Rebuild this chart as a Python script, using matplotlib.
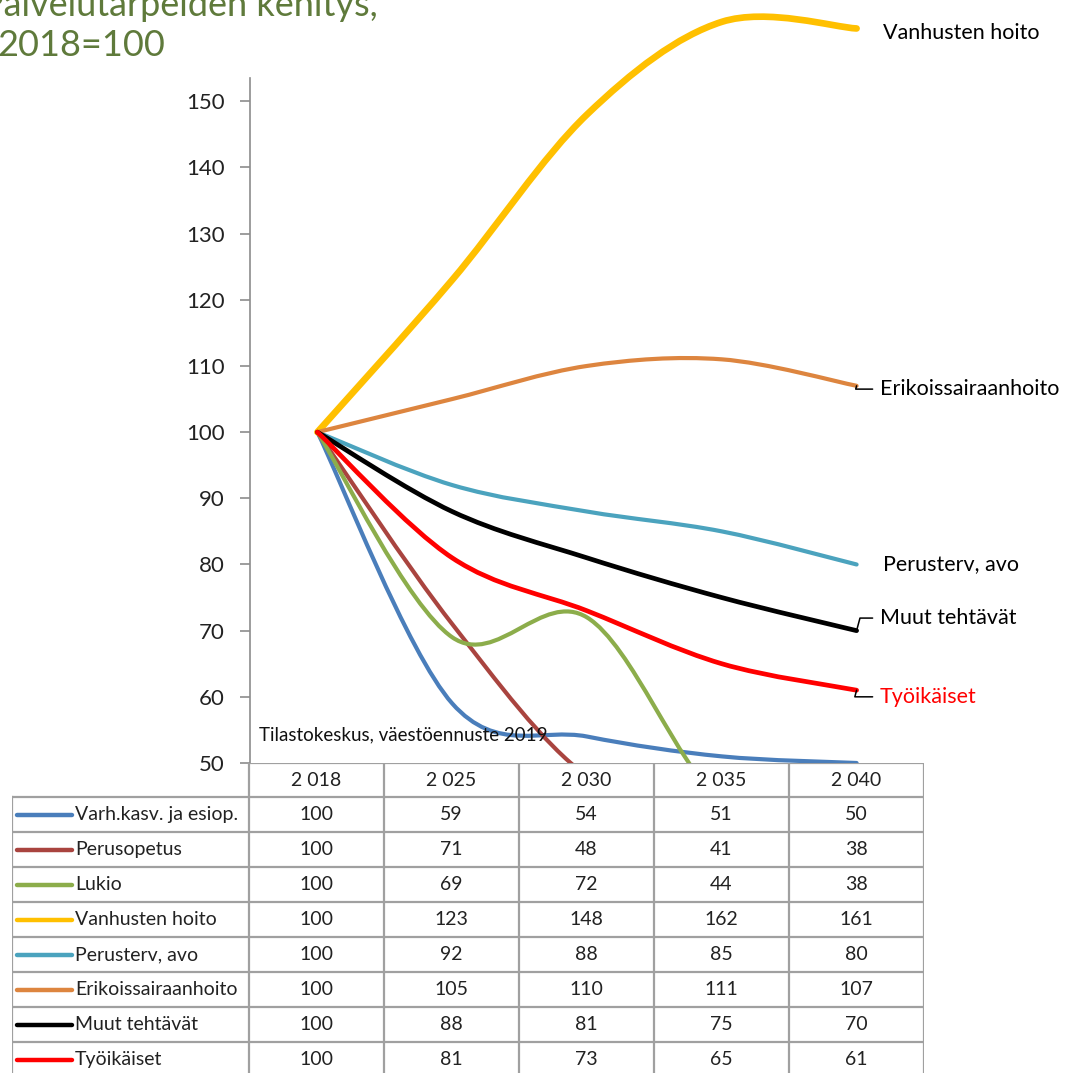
import numpy as np
import matplotlib
matplotlib.use("Agg")
import matplotlib.pyplot as plt
from matplotlib.path import Path
from matplotlib.patches import PathPatch

plt.rcParams['font.family'] = ['Lato', 'DejaVu Sans']

# ---------------- data ----------------
years = [2018, 2025, 2030, 2035, 2040]
series_names = ["Varh.kasv. ja esiop.", "Perusopetus", "Lukio", "Vanhusten hoito",
                "Perusterv, avo", "Erikoissairaanhoito", "Muut tehtävät", "Työikäiset"]
varh = [100, 59, 54, 51, 50]
perusopetus = [100, 71, 48, 41, 38]
lukio = [100, 69, 72, 44, 38]
vanhusten = [100, 123, 148, 162, 161]
perusterv = [100, 92, 88, 85, 80]
erikois = [100, 105, 110, 111, 107]
muut = [100, 88, 81, 75, 70]
tyoikaiset = [100, 81, 73, 65, 61]
series_values = [varh, perusopetus, lukio, vanhusten, perusterv, erikois, muut, tyoikaiset]
colors = ["#4a7ebb", "#a9443f", "#8cad4b", "#ffc000", "#4ba3be", "#dd853f", "#000000", "#ff0000"]
widths = [3.0, 3.0, 3.0, 4.8, 3.0, 3.0, 3.4, 3.4]
yticks = [50, 60, 70, 80, 90, 100, 110, 120, 130, 140, 150]
title_lines = ["Palvelutarpeiden kehitys,", "2018=100"]
source_note = "Tilastokeskus, väestöennuste 2019"
# right-hand labels: series index -> (text colour, label y position, has leader)
end_labels = {3: ("#000000", 160.3, False), 5: ("#000000", 106.5, True),
              4: ("#000000", 80.1, False), 6: ("#000000", 71.9, True),
              7: ("#ff0000", 60.0, True)}

W, H = 1067, 1073
fig = plt.figure(figsize=(W / 100, H / 100), dpi=100)
fig.patch.set_facecolor("white")

def px_rect(x0, y0, x1, y1):
    return [x0 / W, 1 - y1 / H, (x1 - x0) / W, (y1 - y0) / H]

ax = fig.add_axes(px_rect(250, 2, 924, 763))
ax.set_xlim(-0.5, 4.5)
ax.set_ylim(50, 165)

def smooth(xs, ys):
    pts = np.column_stack([xs, ys]).astype(float)
    n = len(pts)
    verts = [pts[0]]
    codes = [Path.MOVETO]
    for i in range(n - 1):
        p0 = pts[i - 1] if i > 0 else pts[i]
        p1 = pts[i]
        p2 = pts[i + 1]
        p3 = pts[i + 2] if i + 2 < n else pts[i + 1]
        c1 = p1 + (p2 - p0) / 6.0
        c2 = p2 - (p3 - p1) / 6.0
        verts += [c1, c2, p2]
        codes += [Path.CURVE4] * 3
    return Path(verts, codes)

xs = np.arange(len(years))
for vals, c, lw in zip(series_values, colors, widths):
    patch = PathPatch(smooth(xs, vals), facecolor="none", edgecolor=c, lw=lw,
                      capstyle="round", joinstyle="round")
    ax.add_patch(patch)

for s in ["top", "right", "bottom"]:
    ax.spines[s].set_visible(False)
ax.spines["left"].set_color("#8c8c8c")
ax.spines["left"].set_linewidth(1.2)
ax.spines["left"].set_bounds(50, 153.5)
ax.set_xticks([])
ax.set_yticks(yticks)
ax.set_yticklabels([str(v) for v in yticks])
ax.tick_params(axis="y", direction="out", length=7, width=1.2, color="#8c8c8c",
               labelsize=16, pad=11, labelcolor="#222222")

# right-hand labels with leaders
for idx, (tc, ty, leader) in end_labels.items():
    vals = series_values[idx]
    name = series_names[idx]
    if not leader:
        ax.annotate(name, xy=(4, vals[-1]), xytext=(4 + 26 / 135, ty), textcoords="data",
                    fontsize=15.5, color=tc, va="center", ha="left", annotation_clip=False)
    else:
        ax.annotate(name, xy=(4, vals[-1]), xytext=(4 + 23 / 135, ty), textcoords="data",
                    fontsize=15.5, color=tc, va="center", ha="left", annotation_clip=False,
                    arrowprops=dict(arrowstyle="-", color="#000000", lw=1.1, shrinkA=3, shrinkB=0,
                                    connectionstyle="angle,angleA=0,angleB=75,rad=0"))

ax.text((258 - 316) / 135, 54.3, source_note, fontsize=13.5, color="#111111",
        ha="left", va="center")

# ---------------- title ----------------
fig.text(-18 / W, 1 - 6 / H, title_lines[0], fontsize=26, color="#5f7a3b", ha="left", va="center")
fig.text(-3 / W, 1 - 45 / H, title_lines[1], fontsize=26, color="#5f7a3b", ha="left", va="center")

# ---------------- data table ----------------
row_h = 35
tab = fig.add_axes(px_rect(12, 763, 924, 763 + 34 + row_h * 8))
x_left = (12 - 316) / 135
tab.set_xlim(x_left, 4.5)
nrows = len(series_names)
tab.set_ylim(34 + row_h * nrows, 0)
tab.axis("off")
gc = "#a0a0a0"
glw = 1.6
tab.plot([-0.5, 4.5], [0, 0], color=gc, lw=glw, solid_capstyle="butt")
for i in range(len(years) + 1):
    tab.plot([i - 0.5, i - 0.5], [0, 34 + row_h * nrows], color=gc, lw=glw)
tab.plot([x_left, x_left], [34, 34 + row_h * nrows], color=gc, lw=glw)
for r in range(nrows + 1):
    yy = 34 + r * row_h
    tab.plot([x_left, 4.5], [yy, yy], color=gc, lw=glw, solid_capstyle="butt")
for i, yv in enumerate(years):
    tab.text(i, 17, f"{yv:,}".replace(",", " "), ha="center", va="center", fontsize=14, color="#222222")
for r, (name, vals, c) in enumerate(zip(series_names, series_values, colors)):
    yc = 34 + r * row_h + row_h / 2
    tab.plot([(17 - 316) / 135, (72 - 316) / 135], [yc, yc], color=c, lw=3.2, solid_capstyle="round")
    tab.text((75 - 316) / 135, yc, name, ha="left", va="center", fontsize=14, color="#222222")
    for i, v in enumerate(vals):
        tab.text(i, yc, str(v), ha="center", va="center", fontsize=14, color="#222222")

fig.savefig("out.png", dpi=100, facecolor="white")
